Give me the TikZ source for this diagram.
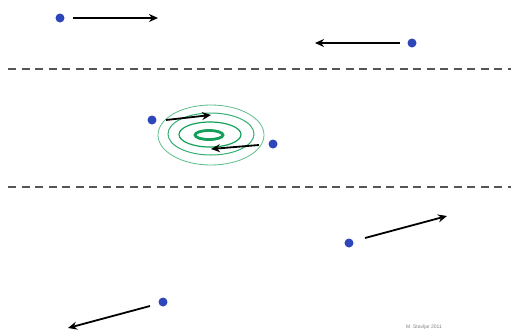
\documentclass[tikz,border=0pt]{standalone}
\usepackage{fontspec}
\setmainfont{Liberation Sans}
\usetikzlibrary{arrows.meta}
\definecolor{dotblue}{RGB}{45,70,185}
\definecolor{ringgreen}{RGB}{20,160,90}
\definecolor{dashgray}{RGB}{85,85,85}
\tikzset{
  particle/.style={circle,fill=dotblue,inner sep=0pt,minimum size=9pt},
  motion/.style={line width=1.8pt,-{Stealth[length=9pt,width=8pt]}},
  divider/.style={dashgray,line width=2pt,dash pattern=on 8pt off 5.5pt},
  ring/.style={ringgreen}
}
\begin{document}
\begin{tikzpicture}[x=1pt,y=-1pt]
\useasboundingbox (0,0) rectangle (511,333);
% dividers
\coordinate (l1a) at (8,69); \coordinate (l1b) at (511,69);
\coordinate (l2a) at (8,187); \coordinate (l2b) at (511,187);
\draw[divider] (l1a) -- (l1b);
\draw[divider] (l2a) -- (l2b);
% rings
\draw[ring,opacity=0.7,line width=0.8pt] (211,135) ellipse [x radius=53,y radius=30];
\draw[ring,opacity=0.85,line width=1pt] (211,134) ellipse [x radius=43,y radius=21];
\draw[ring,line width=1.2pt] (210,134.5) ellipse [x radius=31,y radius=12.5];
\draw[ring,line width=2.8pt] (209,135) ellipse [x radius=14,y radius=4.5];
% particles
\node[particle] (p1) at (60,18) {};
\node[particle] (p2) at (412,43) {};
\node[particle] (p3) at (152,120) {};
\node[particle] (p4) at (273,144) {};
\node[particle] (p5) at (349,243) {};
\node[particle] (p6) at (163,302) {};
% arrow ends
\coordinate (s1) at (73,18);  \coordinate (e1) at (158,18);
\coordinate (s2) at (400,43); \coordinate (e2) at (315,43);
\coordinate (s3) at (166,120); \coordinate (e3) at (211,115);
\coordinate (s4) at (259,145); \coordinate (e4) at (211,149);
\coordinate (s5) at (365,238); \coordinate (e5) at (447,216);
\coordinate (s6) at (150,306); \coordinate (e6) at (68,328);
\draw[motion] (s1) -- (e1);
\draw[motion] (s2) -- (e2);
\draw[motion] (s3) -- (e3);
\draw[motion] (s4) -- (e4);
\draw[motion] (s5) -- (e5);
\draw[motion] (s6) -- (e6);
\node[text=gray,font=\fontsize{5}{6}\selectfont] (cr) at (424,327) {M. Stavljar 2011};
\end{tikzpicture}
\end{document}
